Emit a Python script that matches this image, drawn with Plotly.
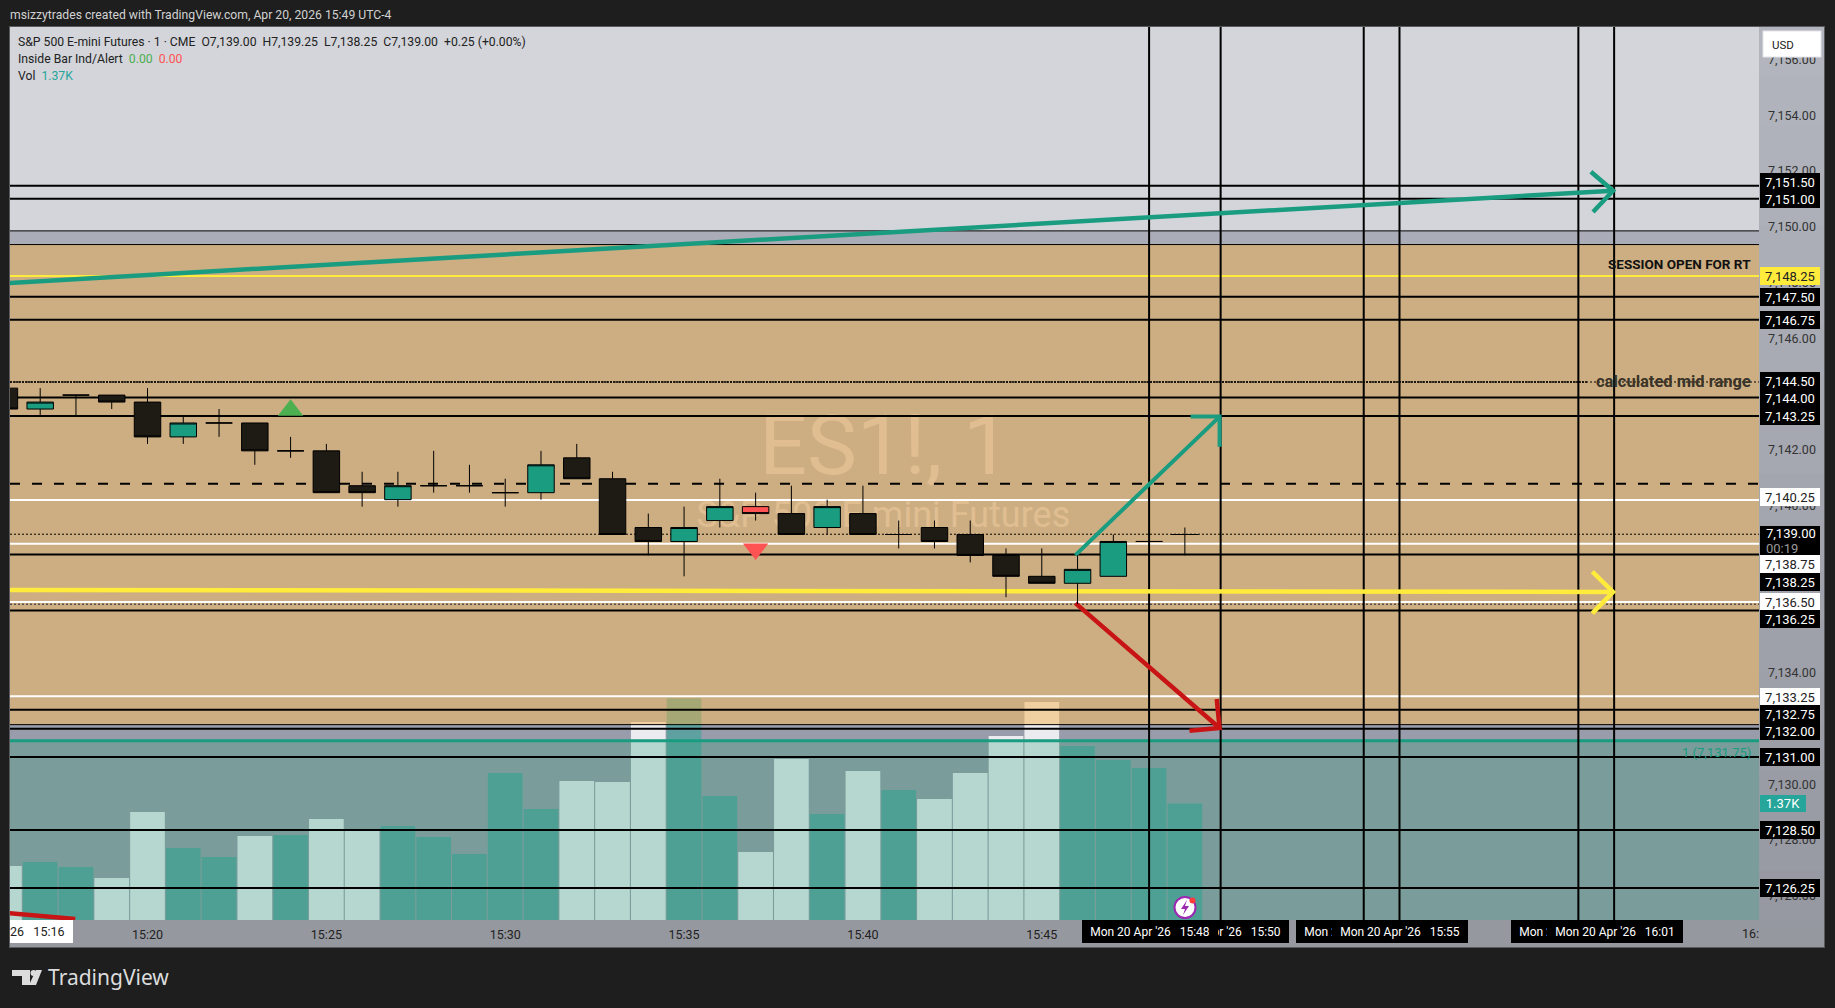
import plotly.graph_objects as go

# ---------- data ----------
MINUTES = list(range(16, 50))
OPEN  = [7144.25,7143.5,7144,7144,7143.75,7142.5,7143,7143,7142,7142,7140.75,7140.25,7140.75,7140.75,7140.5,7140.5,7141.75,7141,7139.25,7138.75,7139.5,7140,7139.75,7139.25,7139.75,7139,7139.25,7139,7138.25,7137.5,7137.25,7137.5,7138.75,7139]
HIGH  = [7144.25,7144.25,7144,7144,7144.25,7143.25,7143.5,7143,7142.5,7142.25,7141.25,7141.25,7142,7141.5,7141,7142,7142.25,7141.25,7139.75,7140,7141,7140.5,7140.75,7140.25,7140.75,7139.5,7139.5,7139.5,7138.5,7138.5,7138.25,7139,7138.75,7139.25]
LOW   = [7143.5,7143.25,7143.25,7143.5,7142.25,7142.25,7142.5,7141.5,7141.75,7140.5,7140,7140,7140.5,7140.5,7140,7140.25,7141,7139,7138.25,7137.5,7139.25,7139.5,7139,7139,7139,7138.5,7138.5,7138,7136.75,7137.25,7136.5,7137.5,7138.75,7138.25]
CLOSE = [7143.5,7143.75,7144,7143.75,7142.5,7143,7143,7142,7142,7140.5,7140.5,7140.75,7140.75,7140.75,7140.5,7141.5,7141,7139,7138.75,7139.25,7140,7139.75,7139,7140,7139,7139,7138.75,7138.25,7137.5,7137.25,7137.75,7138.75,7138.75,7139]
VOLUME_K = [.635,.682,.624,.494,1.27,.847,.741,.988,1.0,1.188,1.06,1.106,.976,.776,1.729,1.306,1.635,1.624,2.329,2.608,1.459,.8,1.894,1.247,1.753,1.529,1.424,1.729,2.165,2.565,2.047,1.882,1.788,1.37]
VOLUME_UP = [0,1,1,0,0,1,1,0,1,0,0,1,1,1,1,1,0,0,0,1,1,0,0,1,0,1,0,0,0,0,1,1,1,1]
INSIDE_BAR_MINUTE = 37
SIGNAL_UP = (24, 7143.46)
SIGNAL_DOWN = (37, 7138.48)

TICK_MINUTES = [20,25,30,35,40,45,50,55,60]
TICK_LABELS = ["15:20","15:25","15:30","15:35","15:40","15:45","15:50","15:55","16:00"]
PRICE_TICKS = list(range(7126, 7158, 2))
VERTICAL_MINUTES = [48,50,54,55,60,61]

BLACK_LEVELS = [7151.47,7151.00,7147.49,7146.66,7143.87,7143.21,7138.24,7136.23,7132.67,7131.99,7130.98,7128.36,7126.28]
THIN_BLACK_LEVELS = [7149.85,7149.36,7132.14]
WHITE_LEVELS = [7140.20,7138.63,7136.54,7133.16]
YELLOW_LEVEL = 7148.23
DASHED_LEVEL = 7140.78
MID_RANGE_LEVEL = 7144.43
LAST_PRICE_LEVEL = 7138.97
DOTTED_NAVY_LEVEL = 7136.46
TEAL_LEVEL = 7131.56
TAN_BAND = (7149.36, 7132.14)
TEAL_BAND = 7131.56

ARROWS = [
    ("#1a9c80",4.5,[16.13,60.97,None,60.35,60.97,60.41],[7147.98,7151.29,None,7151.97,7151.29,7150.53]),
    ("#ffeb3b",4.5,[16.13,60.97,None,60.39,60.97,60.39],[7136.97,7136.90,None,7137.63,7136.90,7136.13]),
    ("#1a9c80",4,[45.94,49.97,None,49.16,49.97,49.97],[7138.22,7143.19,None,7143.19,7143.19,7142.11]),
    ("#c81414",4.5,[45.94,49.97,None,49.89,49.97,49.13],[7136.50,7132.02,None,7133.06,7132.02,7131.92]),
    ("#c81414",4.5,[16.13,17.98],[7125.38,7125.17]),
]

TAG_LABELS = ["7,151.50","7,151.00","7,148.25","7,147.50","7,146.75","7,144.50","7,144.00","7,143.25","7,140.25","7,138.75","7,138.25","7,136.50","7,136.25","7,133.25","7,132.75","7,132.00","7,131.00","7,128.50","7,126.25"]
TAG_CENTERS = [182,199,276,296.7,319.7,380.7,397.7,415.7,497,564.3,581.7,601.7,619,696.7,713.7,730.7,756.7,830,887.7]
TAG_STYLES = ["k","k","y","k","k","k","k","k","w","w","k","w","k","w","k","k","k","k","k"]

TIME_TAGS = [("Mon 20 Apr '26\u00a0\u00a0\u00a015:50",1221),("Mon 20 Apr '26\u00a0\u00a0\u00a015:48",1150),
             ("Mon 20 Apr '26\u00a0\u00a0\u00a015:54",1364),("Mon 20 Apr '26\u00a0\u00a0\u00a015:55",1400),
             ("Mon 20 Apr '26\u00a0\u00a0\u00a016:00",1579),("Mon 20 Apr '26\u00a0\u00a0\u00a016:01",1615)]

# ---------- frame (pixels of the page) ----------
W, H = 1835, 1008
L, R, T, B = 10, 1759, 27, 920
X_RANGE = [16.156, 65.05]
P_RANGE = [7125.133, 7157.163]
CANDLE_RANGE = [7125.173, 7157.203]
V_RANGE = [0, 10.506]
FONT = "Roboto"
DARK = "#1e1e1e"

def px(x): return (x - L) / (R - L)
def py(y): return 1 - (y - T) / (B - T)

def rect(x0, y0, x1, y1, color, layer="below"):
    return dict(type="rect", xref="paper", yref="paper", x0=px(x0), x1=px(x1), y0=py(y0), y1=py(y1),
                fillcolor=color, line=dict(width=0), layer=layer)

def poly(points, color, layer="above"):
    path = "M " + " L ".join(f"{px(a):.5f} {py(b):.5f}" for a, b in points) + " Z"
    return dict(type="path", xref="paper", yref="paper", path=path, fillcolor=color, line=dict(width=0), layer=layer)

def circle(cx, cy, r, fill, line_color=None, lw=0, layer="above"):
    return dict(type="circle", xref="paper", yref="paper", x0=px(cx-r), x1=px(cx+r), y0=py(cy+r), y1=py(cy-r),
                fillcolor=fill, line=dict(width=lw, color=line_color or fill), layer=layer)

def note(text, x, y, size=12, color="#222", xanchor="left", family=None, **kw):
    return dict(xref="paper", yref="paper", x=px(x), y=py(y), text=text, showarrow=False, xanchor=xanchor,
                yanchor="middle", font=dict(family=family or FONT, size=size, color=color), borderpad=0, borderwidth=0, **kw)

shapes, notes = [], []

# page pieces under everything
shapes.append(rect(9, 26, 1825, 948, "#5a5a5e"))
shapes.append(rect(L, B, 1824, 947, "#96989f"))
steps = 18
for i in range(steps):
    t = i / (steps - 1)
    c = f"rgb({178-28*t:.0f},{181-29*t:.0f},{190-28*t:.0f})"
    shapes.append(rect(R, T + (B-T)*i/steps, 1824, T + (B-T)*(i+1)/steps + 1, c))
shapes.append(rect(L, T, R, 231, "rgb(211,213,218)"))
shapes.append(rect(L, 231, R, 245, "rgb(170,173,183)"))
shapes.append(rect(L, 245, R, 725, "rgb(170,172,184)"))
shapes.append(rect(L, 725, R, B, "rgb(153,156,170)"))

fig = go.Figure()

# volume, lowest subplot
fig.add_trace(go.Bar(x=MINUTES, y=VOLUME_K, yaxis="y",
                     marker=dict(color=["rgb(95,160,160)" if u else "rgb(235,235,240)" for u in VOLUME_UP],
                                 line=dict(width=0))))

# bands, levels, watermark and drawings, middle subplot
band_x = [X_RANGE[0], X_RANGE[1], X_RANGE[1], X_RANGE[0], X_RANGE[0]]
fig.add_trace(go.Scatter(x=band_x, y=[TAN_BAND[0],TAN_BAND[0],TAN_BAND[1],TAN_BAND[1],TAN_BAND[0]], yaxis="y2",
                         mode="none", fill="toself", fillcolor="rgba(246,177,68,0.464)"))
fig.add_trace(go.Scatter(x=band_x, y=[TEAL_BAND,TEAL_BAND,P_RANGE[0],P_RANGE[0],TEAL_BAND], yaxis="y2",
                         mode="none", fill="toself", fillcolor="rgba(36,163,117,0.265)"))
fig.add_trace(go.Scatter(x=[40.61], y=[7141.87], yaxis="y2", mode="text", text=["ES1!,\u00a01"], textposition="middle center",
                         textfont=dict(family=FONT, size=84, color="rgb(224,190,146)")))
fig.add_trace(go.Scatter(x=[40.57], y=[7139.55], yaxis="y2", mode="text", text=["S&P 500 E-mini Futures"], textposition="middle center",
                         textfont=dict(family=FONT, size=36, color="rgb(224,190,146)")))

def hline(level, color, width, dash="solid", x0=None):
    fig.add_trace(go.Scatter(x=[x0 if x0 is not None else X_RANGE[0], X_RANGE[1]], y=[level, level], yaxis="y2", mode="lines",
                             line=dict(color=color, width=width, dash=dash)))
for v in BLACK_LEVELS: hline(v, "#000", 2)
for v in THIN_BLACK_LEVELS: hline(v, "#000", 1)
for v in WHITE_LEVELS: hline(v, "#fff", 2)
hline(YELLOW_LEVEL, "#ffeb3b", 2)
hline(DASHED_LEVEL, "#000", 2, "10px,12px")
hline(MID_RANGE_LEVEL, "#000", 1, "2px,2px")
fig.add_trace(go.Scatter(x=[X_RANGE[0], 60.25], y=[MID_RANGE_LEVEL]*2, yaxis="y2", mode="lines", line=dict(color="#000", width=1.5, dash="2px,1px")))
hline(LAST_PRICE_LEVEL, "#000", 1, "2px,2px")
hline(DOTTED_NAVY_LEVEL, "#223", 1, "2px,2px")
hline(TEAL_LEVEL, "#1a9c80", 3)

for m in VERTICAL_MINUTES:
    fig.add_trace(go.Scatter(x=[m, m], y=P_RANGE, yaxis="y2", mode="lines", line=dict(color="#000", width=2)))
for color, width, xs, ys in ARROWS:
    fig.add_trace(go.Scatter(x=xs, y=ys, yaxis="y2", mode="lines", line=dict(color=color, width=width)))

# candles, top subplot
keep = [i for i, m in enumerate(MINUTES) if m != INSIDE_BAR_MINUTE]
red = [i for i, m in enumerate(MINUTES) if m == INSIDE_BAR_MINUTE]
def candle(idx, up, down):
    fig.add_trace(go.Candlestick(x=[MINUTES[i] for i in idx], open=[OPEN[i] for i in idx], high=[HIGH[i] for i in idx],
                                 low=[LOW[i] for i in idx], close=[CLOSE[i] for i in idx], yaxis="y3",
                                 increasing=dict(line=dict(color="#000", width=1), fillcolor=up),
                                 decreasing=dict(line=dict(color="#000", width=1), fillcolor=down)))
candle(keep, "#1a9c80", "#1e1a14")
candle(red, "#ff5252", "#ff5252")

fig.add_trace(go.Scatter(x=[SIGNAL_UP[0]], y=[SIGNAL_UP[1]], yaxis="y3", mode="markers",
                         marker=dict(symbol="triangle-up", size=22, color="#4caf50")))
fig.add_trace(go.Scatter(x=[SIGNAL_DOWN[0]], y=[SIGNAL_DOWN[1]], yaxis="y3", mode="markers",
                         marker=dict(symbol="triangle-down", size=22, color="#ff5252")))

# price tags
fills = {"k": ("#000", "#fff"), "w": ("#fff", "#222"), "y": ("#ffeb3b", "#222")}
for label, cy, st in zip(TAG_LABELS, TAG_CENTERS, TAG_STYLES):
    bg, fg = fills[st]
    notes.append(note(label, 1760, cy, size=13, color=fg, bgcolor=bg, width=60, height=18, align="center"))
shapes.append(rect(1760, 526, 1820, 556.5, "#000", "above"))
notes.append(note("7,139.00", 1766, 533.5, size=13, color="#fff"))
notes.append(note("00:19", 1766, 548, size=13, color="#9a9a9a"))
notes.append(note("1.37K", 1760, 803.7, size=13, color="#fff", bgcolor="#26a69a", width=46, height=17, align="center"))

# USD button
shapes.append(dict(type="rect", xref="paper", yref="paper", x0=px(1763), x1=px(1821), y0=py(31), y1=py(57),
                   fillcolor="#fff", line=dict(width=1, color="#e4e4e8"), layer="above"))
notes.append(note("USD", 1772, 44.5, size=11.5, color="#222"))

# time tags
notes.append(note("26\u00a0\u00a0\u00a015:16", 10, 931.5, size=12.5, color="#222", bgcolor="#fff", width=63, height=23, align="left"))
for label, cx in TIME_TAGS:
    notes.append(note(label, cx, 931.5, size=12, color="#fff", xanchor="center", bgcolor="#000", width=136, height=23, align="center"))
notes.append(note("16:", 1759, 933, size=12.5, color="#222", xanchor="right"))

# chart texts
notes.append(note("<b>SESSION OPEN FOR RT</b>", 1751, 264, size=13.5, color="#111", xanchor="right"))
notes.append(note("<b>calculated mid range</b>", 1751, 382, size=16.5, color="#3a3428", xanchor="right"))
notes.append(note("1 (7,131.75)", 1751, 752, size=13, color="#1a9c80", xanchor="right"))

# header / legend
notes.append(note("msizzytrades created with TradingView.com, Apr 20, 2026 15:49 UTC-4", 10, 15, size=12.2, color="#d2d2d2"))
notes.append(note("S&P 500 E-mini Futures \u00b7 1 \u00b7 CME\u00a0\u00a0O7,139.00\u00a0\u00a0H7,139.25\u00a0\u00a0L7,138.25\u00a0\u00a0C7,139.00\u00a0\u00a0+0.25 (+0.00%)", 18, 42, size=12.2))
notes.append(note("Inside Bar Ind/Alert\u00a0\u00a0<span style='color:#4caf50'>0.00</span>\u00a0\u00a0<span style='color:#ff5252'>0.00</span>", 18, 59, size=12.2))
notes.append(note("Vol\u00a0\u00a0<span style='color:#26a69a'>1.37K</span>", 18, 76, size=12.2))

# TradingView logo
notes.append(note("TradingView", 48, 976.5, size=21, color="#dcdcdc", family="Noto Sans"))
shapes.append(poly([(12,970),(30,970),(30,985),(22,985),(22,976),(12,976)], "#dcdcdc"))
shapes.append(circle(33.5, 973, 3, "#dcdcdc"))
shapes.append(poly([(36,970),(42,970),(36,985),(29,985)], "#dcdcdc"))

# bolt badge
shapes.append(circle(1185, 907.5, 10.5, "#fff", "#9c27b0", 2))
shapes.append(poly([(1187,900),(1181,909),(1185,909),(1183,915),(1189,906),(1185,906)], "#9c27b0"))
shapes.append(circle(1192.5, 900.5, 3, "#ff3b3b"))

axis_off = dict(visible=False, showgrid=False, zeroline=False, fixedrange=True)
fig.update_layout(
    width=W, height=H, autosize=False,
    margin=dict(l=L, r=W-R, t=T, b=H-B, pad=0),
    paper_bgcolor=DARK, plot_bgcolor="rgba(0,0,0,0)",
    showlegend=False, hovermode=False, bargap=0.03, boxgap=0.26, boxgroupgap=0, boxmode="overlay",
    font=dict(family=FONT, color="#222"),
    xaxis=dict(range=X_RANGE, type="linear", rangeslider=dict(visible=False), showgrid=False, zeroline=False,
               tickmode="array", tickvals=TICK_MINUTES, ticktext=TICK_LABELS, ticks="", showline=False,
               tickfont=dict(family=FONT, size=12.5, color="#222"), ticklabelstandoff=5),
    yaxis=dict(range=V_RANGE, **axis_off),
    yaxis2=dict(range=P_RANGE, overlaying="y", side="right", showgrid=False, zeroline=False, showline=False, ticks="",
                tickmode="array", tickvals=PRICE_TICKS, ticktext=[f"{v:,.2f}" for v in PRICE_TICKS],
                tickfont=dict(family=FONT, size=12.5, color="#333"), ticklabelstandoff=8),
    yaxis3=dict(range=CANDLE_RANGE, overlaying="y", **axis_off),
    shapes=shapes, annotations=notes,
)

fig.write_html("out.html", config=dict(displayModeBar=False),
               post_script="document.body.style.margin='0';document.body.style.overflow='hidden';document.body.style.background='#1e1e1e';")
